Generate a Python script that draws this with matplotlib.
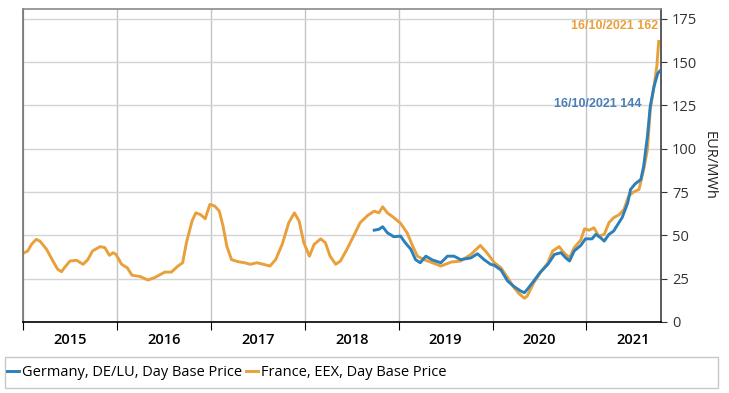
#day base prices, France and Germany, 2015 - Oct 2021
#x values are decimal years
import matplotlib.pyplot as plt
from matplotlib.patches import Rectangle

#France, EEX
fr_year = [2015.0, 2015.05, 2015.09, 2015.14, 2015.18, 2015.25, 2015.32, 2015.37, 2015.41, 2015.44,
           2015.50, 2015.57, 2015.64, 2015.69, 2015.74, 2015.82, 2015.87, 2015.92, 2015.96, 2015.99,
           2016.05, 2016.11, 2016.16, 2016.25, 2016.33, 2016.40, 2016.51, 2016.58, 2016.65, 2016.70,
           2016.74, 2016.80, 2016.84, 2016.89, 2016.94, 2016.99, 2017.04, 2017.09, 2017.13, 2017.17,
           2017.22, 2017.29, 2017.36, 2017.42, 2017.49, 2017.56, 2017.63, 2017.69, 2017.76, 2017.83,
           2017.89, 2017.94, 2017.99, 2018.05, 2018.10, 2018.17, 2018.22, 2018.27, 2018.33, 2018.38,
           2018.45, 2018.52, 2018.59, 2018.67, 2018.74, 2018.79, 2018.83, 2018.88, 2018.95, 2019.02,
           2019.09, 2019.15, 2019.20, 2019.27, 2019.36, 2019.45, 2019.56, 2019.66, 2019.77, 2019.87,
           2019.94, 2020.02, 2020.09, 2020.16, 2020.23, 2020.28, 2020.34, 2020.37, 2020.44, 2020.51,
           2020.59, 2020.64, 2020.71, 2020.76, 2020.82, 2020.87, 2020.94, 2020.98, 2021.03, 2021.08,
           2021.13, 2021.19, 2021.24, 2021.29, 2021.35, 2021.40, 2021.45, 2021.50, 2021.56, 2021.61,
           2021.65, 2021.68, 2021.72, 2021.75, 2021.77]
fr_price = [39.6, 41, 44.8, 47.7, 46.7, 42, 35, 30.4, 29, 31.3,
            35.2, 35.6, 33.3, 36, 41, 43.5, 43, 38.5, 40, 39,
            33.3, 31.3, 27, 26.2, 24.2, 25.6, 28.8, 28.8, 32.3, 34.2,
            45.8, 58.3, 63, 62, 59.6, 67.9, 67, 64, 55.4, 43.8,
            36, 34.8, 34.2, 33.3, 34.2, 33.3, 32.3, 36, 44.8, 57.3,
            63, 58.3, 45.8, 38, 44.8, 48, 45.8, 38, 33.3, 35.2,
            42, 49.6, 57.3, 61.5, 64, 63, 66.5, 63, 60.2, 57,
            51.5, 43.8, 38, 36, 34.2, 32.3, 34.6, 35.2, 39, 44.2,
            40, 34.2, 31.3, 25.6, 19.8, 16.5, 13.7, 15, 22.7, 28.5,
            34.2, 41, 43.5, 40, 37, 42.9, 47.3, 53.8, 53, 54.4,
            49.6, 50.6, 57.3, 60.2, 62, 65, 72.7, 75, 76.5, 88,
            99.6, 122.7, 136, 147.7, 162]

#Germany, DE/LU
de_year = [2018.74, 2018.79, 2018.83, 2018.88, 2018.95, 2019.02, 2019.07, 2019.13, 2019.18, 2019.23,
           2019.29, 2019.36, 2019.45, 2019.52, 2019.59, 2019.66, 2019.77, 2019.84, 2019.91, 2019.98,
           2020.02, 2020.09, 2020.16, 2020.23, 2020.30, 2020.34, 2020.37, 2020.44, 2020.51, 2020.59,
           2020.66, 2020.73, 2020.78, 2020.82, 2020.87, 2020.94, 2020.99, 2021.06, 2021.10, 2021.15,
           2021.19, 2021.24, 2021.29, 2021.35, 2021.38, 2021.44, 2021.47, 2021.52, 2021.58, 2021.61,
           2021.65, 2021.68, 2021.72, 2021.76, 2021.78]
de_price = [53, 53.5, 55, 51.5, 49.2, 49.6, 45.8, 42, 36, 34.2,
            38, 35.8, 34.2, 38, 38, 36, 37, 39.4, 36, 33.3,
            32.7, 30, 23.7, 20.4, 17.9, 16.9, 18.8, 23.7, 28.8, 33.3,
            39, 40, 37, 35.2, 41, 44.2, 48, 48, 50.6, 48.7,
            46.7, 50.6, 52.5, 57.7, 60.2, 68.8, 76.5, 79.8, 82.3, 90,
            107.3, 124.6, 136, 143.5, 144.8]

years = [2015, 2016, 2017, 2018, 2019, 2020, 2021]

blue = '#2b7fbb'
orange = '#e9a03b'

plt.rcParams['font.family'] = ['Open Sans', 'DejaVu Sans']

fig = plt.figure(figsize=(7.29, 3.93), dpi=100)
ax = fig.add_axes([0.0316, 0.1807, 0.8752, 0.7964])

ax.plot(de_year, de_price, color=blue, lw=2.1, label='Germany, DE/LU, Day Base Price', zorder=3)
ax.plot(fr_year, fr_price, color=orange, lw=2.1, label='France, EEX, Day Base Price', zorder=2)

ax.set_xlim(2015.0, 2021.795)
ax.set_ylim(0, 180.7)

#y axis on the right
ax.yaxis.tick_right()
ax.yaxis.set_label_position('right')
ax.set_yticks(range(0, 176, 25))
ax.tick_params(axis='y', length=4, labelsize=10.5, colors='#333333', pad=4)
ax.set_ylabel('EUR/MWh', rotation=-90, labelpad=14, fontsize=10.5, color='#222222')

#x axis: ticks on year boundaries, labels in the middle
ax.set_xticks(years)
ax.set_xticklabels([])
ax.set_xticks([y + 0.5 for y in years], minor=True)
ax.set_xticklabels([str(y) for y in years], minor=True, fontsize=10.5, fontweight='semibold')
ax.tick_params(axis='x', which='major', length=6, direction='out', color='black')
ax.tick_params(axis='x', which='minor', length=0, pad=8)

ax.grid(axis='y', color='#d4d4d4', lw=1)
ax.grid(axis='x', which='major', color='#c4c4c4', lw=1)
ax.set_axisbelow(True)

ax.spines['top'].set_color('#8a8a8a')
ax.spines['left'].set_color('#707070')
ax.spines['right'].set_color('#404040')
ax.spines['bottom'].set_color('black')
for s in ax.spines.values():
    s.set_linewidth(1.2)

#end labels
ax.text(2021.76, 171, '16/10/2021 162', color=orange, fontsize=9, fontweight='bold',
        ha='right', va='center', family=['Liberation Sans', 'DejaVu Sans'])
ax.text(2021.59, 126, '16/10/2021 144', color='#4a80b8', fontsize=9, fontweight='bold',
        ha='right', va='center', family=['Liberation Sans', 'DejaVu Sans'])

#legend box across the bottom
fig.patches.append(Rectangle((5 / 729, 5 / 393), 713 / 729, 31 / 393, transform=fig.transFigure,
                             fill=False, edgecolor='#c8c8c8', lw=1))
fig.legend(loc='center left', bbox_to_anchor=(7 / 729, 20.5 / 393), ncol=2, frameon=False,
           fontsize=10.5, handlelength=0.8, handletextpad=0.2, columnspacing=0.3,
           borderaxespad=0, borderpad=0)

plt.savefig('out.png', dpi=100)
